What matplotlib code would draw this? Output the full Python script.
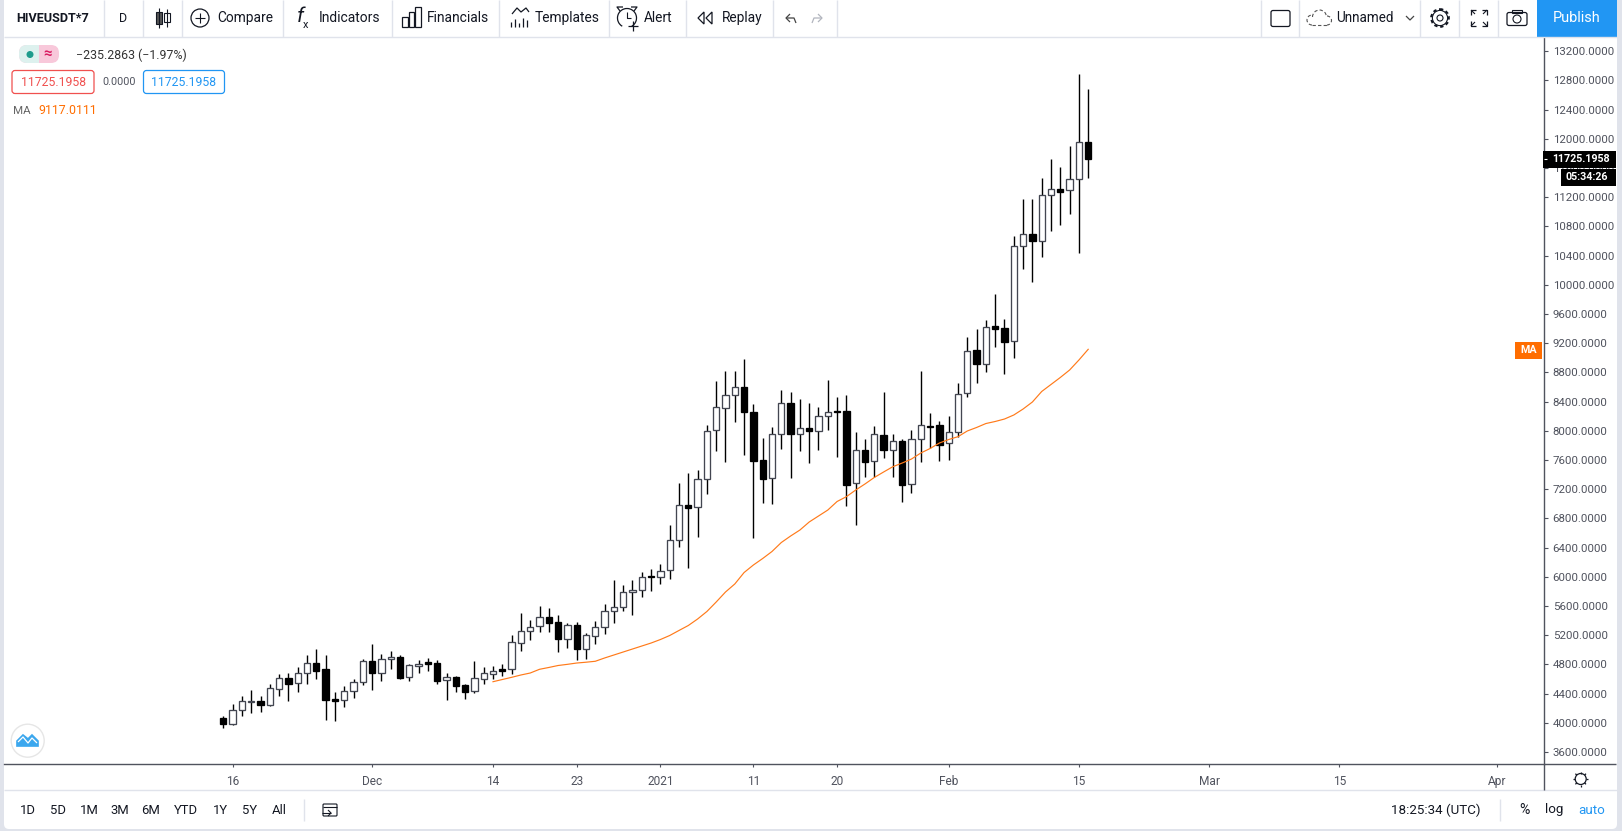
import math
import matplotlib
matplotlib.use("Agg")
import matplotlib.pyplot as plt
from matplotlib.patches import Circle, Rectangle, FancyBboxPatch, Polygon, Arc

plt.rcParams['font.family'] = ['Roboto', 'DejaVu Sans']

# ---- data (first bar is 15 Nov 2020, one bar per day) ----
opens = [4066,3988,4171,4289,4299,4248,4458,4609,4541,4678,4815,4737,4326,4308,4431,4554,4842,4678,4869,4897,
         4623,4783,4833,4815,4582,4623,4513,4431,4595,4673,4737,4732,5089,5253,5321,5445,5376,5153,5335,5016,
         5184,5308,5527,5582,5787,5815,6011,5993,6089,6500,6979,6952,7335,8007,8308,8486,8596,8253,7596,7349,
         7952,8377,7952,8034,7993,8199,8267,8267,7281,7733,7582,7938,7733,7856,7267,7884,8062,8075,7829,7979,
         8514,9107,8911,9436,9404,9226,10527,10692,10596,11226,11308,11295,11446,11960]
closes = [3988,4171,4294,4294,4248,4472,4609,4536,4678,4815,4714,4317,4303,4431,4554,4842,4687,4869,4897,4618,
          4787,4810,4810,4577,4623,4509,4426,4609,4678,4705,4714,5102,5253,5317,5445,5372,5153,5335,5016,5198,
          5308,5527,5582,5787,5815,6002,6002,6084,6500,6979,6947,7335,7993,8322,8486,8596,8262,7591,7344,7952,
          8377,7961,8034,8002,8199,8253,8253,7262,7733,7577,7952,7742,7856,7262,7884,8075,8052,7810,7979,8500,
          9089,8920,9418,9399,9221,10527,10692,10605,11226,11308,11276,11446,11952,11725]
highs = [4093,4257,4367,4449,4367,4532,4668,4682,4764,4929,5011,4929,4422,4504,4600,4874,5080,4943,4984,4929,
         4806,4860,4883,4860,4682,4641,4532,4847,4764,4778,4806,5198,5500,5408,5600,5573,5477,5363,5381,5226,
         5395,5623,5956,5883,5956,6061,6107,6171,6705,7281,7418,7463,8080,8683,8820,8820,8984,8368,7902,8048,
         8555,8532,8436,8381,8326,8696,8464,8491,7979,7888,8066,8532,7957,7888,8011,8820,8244,8135,8203,8655,
         9285,9395,9514,9874,9532,10669,11176,11176,11464,11724,11614,11902,12889,12683]
lows = [3933,3974,4098,4139,4148,4235,4367,4303,4426,4536,4600,4043,4029,4221,4344,4522,4454,4577,4742,4605,
        4577,4687,4714,4536,4317,4426,4331,4413,4536,4595,4641,4669,4988,5139,5244,5244,4974,5020,4860,4879,
        5084,5221,5367,5536,5481,5728,5810,5906,5970,6413,6120,6550,7139,7728,7577,8125,7673,6536,7016,7002,
        7756,7358,7728,7564,7742,8016,7646,6975,6714,7372,7363,7632,7372,7029,7148,7577,7760,7591,7605,7911,
        8468,8660,8810,9153,8778,9002,10217,10043,10386,10738,10824,10975,10441,11468]
ma_start = 29
ma_values = [4563,4593,4623,4655,4682,4733,4758,4785,4801,4819,4830,4843,4888,4929,4970,5011,5052,5093,5141,5196,
             5265,5333,5422,5525,5655,5792,5902,6059,6162,6251,6347,6470,6559,6641,6751,6833,6915,7032,7098,7189,
             7272,7361,7436,7509,7559,7614,7696,7758,7833,7881,7920,7998,8046,8100,8128,8162,8217,8299,8395,8539,
             8635,8731,8833,8970,9117]
price_ticks = list(range(3600, 13201, 400))
time_tick_pos = [1, 16, 29, 38, 47, 57, 66, 78, 92, 106, 120, 137]
time_tick_labels = ['16', 'Dec', '14', '23', '2021', '11', '20', 'Feb', '15', 'Mar', '15', 'Apr']
range_buttons = ['1D', '5D', '1M', '3M', '6M', 'YTD', '1Y', '5Y', 'All']

W, H = 1622, 831
BORDER = '#E0E3EB'
INK = '#131722'
AXC = '#50535E'
ORANGE = '#FF6D00'
BLUE = '#2196F3'

fig = plt.figure(figsize=(W/100, H/100), dpi=100, facecolor=BORDER)

# page panel
bg = fig.add_axes([0, 0, 1, 1], zorder=0)
bg.set_xlim(0, W); bg.set_ylim(H, 0); bg.axis('off')
bg.add_patch(FancyBboxPatch((4, -10), 1613, 839, boxstyle='round,pad=0,rounding_size=5', fc='white', ec='none'))

# ---- chart ----
L, R, T, B = 4, 1543.7, 37.5, 764.3
ax = fig.add_axes([L/W, 1-B/H, (R-L)/W, (B-T)/H], zorder=1)
ax.set_xlim((L-223.3)/9.3, (R-223.3)/9.3)
ax.set_ylim(3600+(752-B)*13.7, 3600+(752-T)*13.7)
ax.set_facecolor('white')
for s in ('top', 'left'):
    ax.spines[s].set_visible(False)
for s in ('right', 'bottom'):
    ax.spines[s].set_color(AXC); ax.spines[s].set_linewidth(1.0)

idx = list(range(len(opens)))
ax.vlines(idx, lows, highs, color='black', lw=1.0, zorder=2)
for i, o, c in zip(idx, opens, closes):
    up = c >= o
    ax.bar(i, abs(c-o), bottom=min(o, c), width=0.68,
           facecolor='white' if up else 'black', edgecolor='#434651' if up else 'black',
           linewidth=0.95, zorder=3)
ax.plot(range(ma_start, ma_start+len(ma_values)), ma_values, color='#FF7A1A', lw=0.85, zorder=4)

ax.yaxis.tick_right()
ax.set_yticks(price_ticks)
ax.set_yticklabels([f'{p:.4f}' for p in price_ticks])
ax.set_xticks(time_tick_pos)
ax.set_xticklabels(time_tick_labels)
ax.tick_params(axis='y', length=3, width=0.8, color=AXC, labelcolor=AXC, labelsize=8.25, pad=3.5)
ax.tick_params(axis='x', length=2.5, width=0.8, color=AXC, labelcolor=AXC, labelsize=8.6, pad=5)

# ---- interface overlay ----
ui = fig.add_axes([0, 0, 1, 1], zorder=5)
ui.set_xlim(0, W); ui.set_ylim(H, 0); ui.axis('off'); ui.patch.set_alpha(0)

def t(x, y, s, px=13, color=INK, ha='left', weight='normal', style='normal'):
    ui.text(x, y, s, fontsize=px*0.72, color=color, ha=ha, va='center', fontweight=weight, fontstyle=style)
def ln(xs, ys, c=INK, w=0.8, **k):
    ui.plot(xs, ys, color=c, lw=w, solid_capstyle='butt', **k)

# frames
ln([4, 1617], [37, 37], BORDER, 1.0)
ln([4, 1617], [790, 790], BORDER, 1.0)
ln([1543.7, 1543.7], [764, 790], AXC, 1.0)
ln([1543.7, 1616], [764.3, 764.3], AXC, 1.0)
for x in [104.4, 142.5, 181.6, 283, 391.5, 499, 608.5, 685.6, 773.4, 837, 1260.7, 1299.3, 1420.3, 1459.3, 1498.3]:
    ln([x, x], [0, 37], BORDER, 1.0)

# toolbar text
t(16, 18, 'HIVEUSDT*7', 12.6, weight='bold')
t(123, 18, 'D', 12.5, ha='center')
for x, s in [(217, 'Compare'), (319, 'Indicators'), (427, 'Financials'), (535, 'Templates'), (644, 'Alert'), (722, 'Replay')]:
    t(x, 18, s, 13.7)

# toolbar icons
ln([158.5, 158.5], [8, 28], INK); ln([167, 167], [9, 27], INK)
ui.add_patch(Rectangle((155.5, 12), 6, 12, fc='#555', ec=INK, lw=0.8))
ui.add_patch(Rectangle((164, 13), 6, 9, fc='white', ec=INK, lw=0.8))
ui.add_patch(Circle((200, 18), 9, fc='none', ec=INK, lw=0.9))
ln([195, 205], [18, 18]); ln([200, 200], [13, 23])
t(297, 16, 'f', 21, style='italic'); t(303, 25, 'x', 11)
for x0, h in [(402, 10), (408.5, 15), (415, 20)]:
    ui.add_patch(Rectangle((x0, 27-h), 5.5, h, fc='none', ec=INK, lw=0.9))
ln([512, 517, 521, 526, 529], [14, 8, 12, 8, 12], INK, 0.9)
for x0, h in [(511, 5), (515, 8), (519, 4), (523, 9), (527, 7)]:
    ln([x0, x0], [27-h, 27], INK, 0.9)
ui.add_patch(Arc((627, 18), 19, 19, theta1=120, theta2=60, ec=INK, lw=0.9))
ln([627, 627, 631], [12, 18, 18], INK, 0.8)
ln([633, 633], [21, 31], INK, 0.9); ln([628, 638], [26, 26], INK, 0.9)
ln([620, 617, 623], [11, 7, 7], INK, 0.9); ln([634, 637, 631], [11, 7, 7], INK, 0.9)
ui.add_patch(Polygon([(704, 12), (698, 18), (704, 24)], closed=True, fc='none', ec=INK, lw=0.9))
ui.add_patch(Polygon([(712, 12), (706, 18), (712, 24)], closed=True, fc='none', ec=INK, lw=0.9))
ln([790, 786, 790], [14, 18, 22], '#444', 0.9); ln([786, 794, 796], [18, 18, 23], '#444', 0.9)
ln([818, 822, 818], [14, 18, 22], '#B2B5BE', 0.9); ln([822, 814, 812], [18, 18, 23], '#B2B5BE', 0.9)

# toolbar right
ui.add_patch(FancyBboxPatch((1271, 10.5), 19, 16, boxstyle='round,pad=0,rounding_size=2', fc='none', ec=INK, lw=0.9))
dash = (0, (3, 2))
ln([1312, 1327], [25, 25], '#555', 0.8, ls=dash)
ui.add_patch(Arc((1312, 20), 10, 10, theta1=90, theta2=270, ec='#555', lw=0.8, ls=dash))
ui.add_patch(Arc((1319.5, 17), 14, 14, theta1=180, theta2=360, ec='#555', lw=0.8, ls=dash))
ui.add_patch(Arc((1327, 20.5), 9, 9, theta1=270, theta2=90, ec='#555', lw=0.8, ls=dash))
t(1335.7, 18, 'Unnamed', 13.5)
ln([1406, 1410, 1414], [16, 20, 16], '#444', 0.9)
ui.add_patch(Circle((1440, 18), 8.8, fc='none', ec=INK, lw=1.5, ls=(0, (1.6, 1.3))))
ui.add_patch(Circle((1440, 18), 7.6, fc='none', ec=INK, lw=0.8))
ui.add_patch(Circle((1440, 18), 3, fc='none', ec=INK, lw=0.8))
for sx, sy in [(-1, -1), (1, -1), (-1, 1), (1, 1)]:
    cx, cy = 1479+sx*8, 18+sy*8
    ln([cx-sx*5, cx, cx], [cy, cy, cy-sy*5], INK, 0.9)
    ln([cx, cx-sx*4], [cy, cy-sy*4], INK, 0.8)
ui.add_patch(FancyBboxPatch((1507, 12.5), 20, 13, boxstyle='round,pad=0,rounding_size=2', fc='none', ec=INK, lw=0.9))
ui.add_patch(Rectangle((1512, 10), 10, 2.5, fc='none', ec=INK, lw=0.8))
ui.add_patch(Circle((1517, 19), 4, fc='none', ec=INK, lw=0.8))
ui.add_patch(Rectangle((1537, 0), 80, 37, fc=BLUE, ec='none'))
t(1577, 18.5, 'Publish', 14.5, 'white', ha='center')

# legend area
ui.add_patch(FancyBboxPatch((19, 45), 40, 18, boxstyle='round,pad=0,rounding_size=8', fc='#F8C8DA', ec='none'))
ui.add_patch(FancyBboxPatch((19, 45), 20, 18, boxstyle='round,pad=0,rounding_size=8', fc='#DDF1EE', ec='none'))
ui.add_patch(Rectangle((30, 45), 9, 18, fc='#DDF1EE', ec='none'))
ui.add_patch(Circle((30, 54.5), 3.5, fc='#1E9C8C', ec='none'))
t(47.7, 54.5, '≈', 15, '#D81B60', ha='center', weight='bold')
t(76, 55.7, '−235.2863 (−1.97%)', 12.4, '#333')
ui.add_patch(FancyBboxPatch((12, 70.5), 82, 23, boxstyle='round,pad=0,rounding_size=3', fc='white', ec='#F0504F', lw=0.9))
t(53, 82, '11725.1958', 12.2, '#F0504F', ha='center')
t(102, 82, '0.0000', 10.8, '#50535E')
ui.add_patch(FancyBboxPatch((143.5, 70.5), 81, 23, boxstyle='round,pad=0,rounding_size=3', fc='white', ec=BLUE, lw=0.9))
t(184, 82, '11725.1958', 12.2, BLUE, ha='center')
t(13, 111, 'MA', 11.5, '#666')
t(38.6, 111, '9117.0111', 12.4, ORANGE)

# price tags
ui.add_patch(Rectangle((1543.3, 151), 72.7, 16.7, fc='black', ec='none'))
ui.add_patch(Rectangle((1561, 168.7), 55, 17, fc='black', ec='none'))
ln([1544, 1547], [159.4, 159.4], 'white', 0.8)
t(1552.3, 159.4, '11725.1958', 10.6, 'white', weight='bold')
t(1565, 177.3, '05:34:26', 10.6, 'white', weight='bold')
ui.add_patch(Rectangle((1515, 342), 27, 16.7, fc=ORANGE, ec='none'))
t(1528.5, 350.3, 'MA', 10.8, 'white', ha='center', weight='bold')

# logo
ui.add_patch(Circle((27.7, 740.7), 16.5, fc='white', ec='#E6E6E6', lw=1.0))
ui.add_patch(Polygon([(17, 746), (17, 741), (23, 735), (28, 739), (32, 735), (38, 741), (38, 746)], fc='#3BA7EE', ec='#3BA7EE', lw=1.2))
ln([18, 23, 28, 32, 37], [742, 737, 743, 738, 743], 'white', 0.9)

# bottom bar
for x, s in zip([28, 58, 89, 120, 151, 186, 220, 250, 279], range_buttons):
    t(x, 810, s, 13, ha='center')
ln([304, 304], [799, 821], BORDER, 1.0)
ui.add_patch(FancyBboxPatch((323, 804), 14, 12, boxstyle='round,pad=0,rounding_size=1', fc='none', ec=INK, lw=0.8))
ln([322, 331], [813, 813], INK, 0.8); ln([328, 331, 328], [810, 813, 816], INK, 0.8)
ln([323, 337], [807, 807], INK, 0.8)
t(1390.7, 810, '18:25:34 (UTC)', 13.4, INK)
ln([1500, 1500], [799, 821], BORDER, 1.0)
t(1524, 810, '%', 14, ha='center')
t(1554, 810, 'log', 13.4, ha='center')
t(1592, 810, 'auto', 13.4, BLUE, ha='center')
ui.add_patch(Circle((1580.7, 779), 5.5, fc='none', ec=INK, lw=0.9))
for k in range(8):
    a = k*math.pi/4
    ln([1580.7+5.5*math.cos(a), 1580.7+7.5*math.cos(a)], [779+5.5*math.sin(a), 779+7.5*math.sin(a)], INK, 0.9)

fig.savefig('out.png', dpi=100, facecolor=fig.get_facecolor())
